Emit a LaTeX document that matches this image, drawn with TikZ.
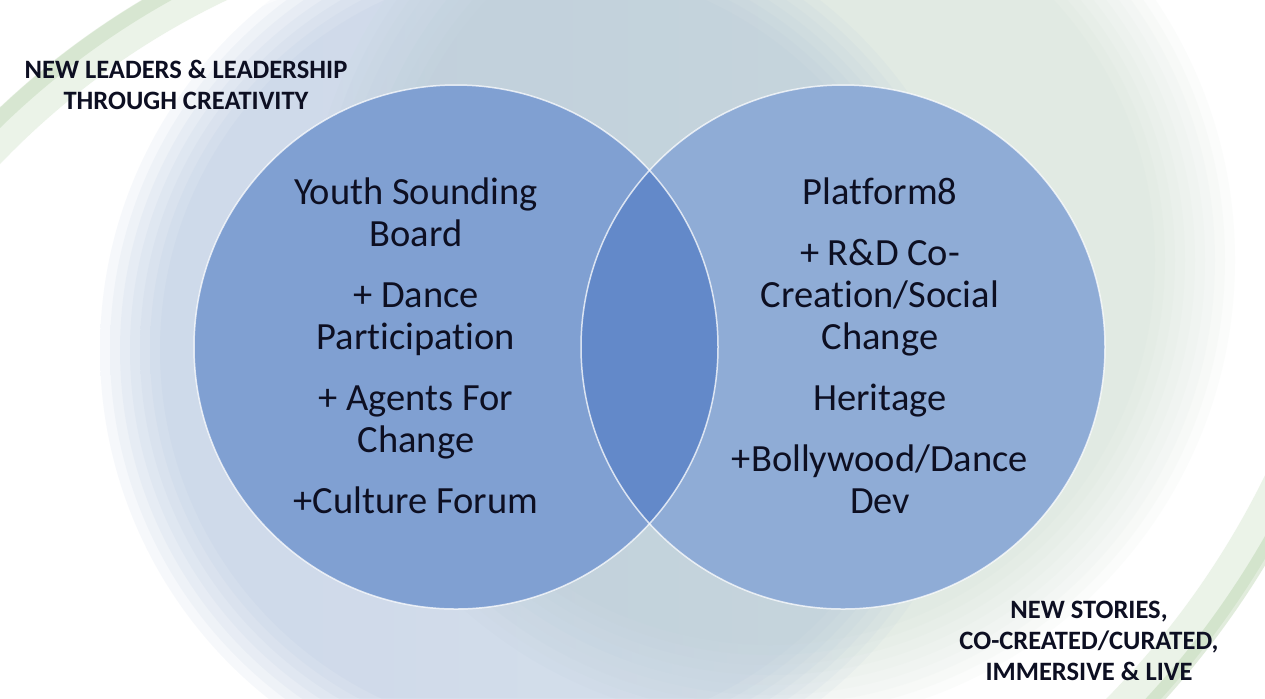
\documentclass[tikz,border=0pt]{standalone}
\usepackage{fontspec}
\setmainfont{Carlito}[Ligatures={NoCommon,NoContextual}]

\definecolor{haloblue}{HTML}{9FB6D8}
\definecolor{halomix}{HTML}{AFC4DA}
\definecolor{halogreen}{HTML}{B9CFBF}
\definecolor{swoosh}{HTML}{9EC38E}
\definecolor{setleft}{HTML}{80A0D2}
\definecolor{setright}{HTML}{8FACD6}
\definecolor{setboth}{HTML}{6389C9}
\definecolor{ink}{HTML}{0D0F22}

\begin{document}
\begin{tikzpicture}[x=0.02cm,y=-0.02cm,
        settext/.style={align=center,text=ink,font=\fontsize{21.9}{23.9}\selectfont},
        cornertext/.style={align=center,text=ink,font=\fontsize{15.1}{17.6}\selectfont\bfseries},
        rim/.style={draw=white,draw opacity=0.75,line width=0.03cm}]
        \def\rad{262}
        \useasboundingbox (0,0) rectangle (1265,698);
        \clip (0,0) rectangle (1265,698);
        \fill[white] (0,0) rectangle (1265,698);
        %% soft glows behind the sets
        \foreach \rr in {465,455,...,385}
            \fill[halogreen,fill opacity=0.05] (770,260) circle (\rr);
        \foreach \rr in {445,435,...,385}
            \shade[fill opacity=0.09,left color=haloblue,right color=halomix] (545,350) circle (\rr);
        %% corner swooshes
        \draw[swoosh,line width=0.8cm,draw opacity=0.2] (560,700) ++(212:795) arc (212:258:795);
        \draw[swoosh,line width=0.3cm,draw opacity=0.25] (560,700) ++(212:808) arc (212:258:808);
        \draw[white,line width=0.4cm,draw opacity=0.5] (560,700) ++(212:765) arc (212:258:765);
        \draw[swoosh,line width=0.8cm,draw opacity=0.2] (500,100) ++(20:872) arc (20:52:872);
        \draw[swoosh,line width=0.3cm,draw opacity=0.3] (500,100) ++(20:888) arc (20:52:888);
        \draw[white,line width=0.4cm,draw opacity=0.5] (500,100) ++(20:842) arc (20:52:842);
        %% the two sets
        \coordinate (L) at (456,347);
        \coordinate (R) at (843,347);
        \fill[setleft] (L) circle (\rad);
        \fill[setright] (R) circle (\rad);
        \begin{scope}
            \clip (L) circle (\rad);
            \fill[setboth] (R) circle (\rad);
        \end{scope}
        \draw[rim] (L) circle (\rad);
        \draw[rim] (R) circle (\rad);
        %% labels
        \node[settext] (youth) at (416,346) {Youth Sounding\\Board\\[0.38cm]+ Dance\\Participation\\[0.38cm]+ Agents For\\Change\\[0.38cm]+Culture Forum};
        \node[settext] (platform) at (880,346) {Platform8\\[0.38cm]+ R\&D Co-\\Creation/Social\\Change\\[0.38cm]Heritage\\[0.38cm]+Bollywood/Dance\\Dev};
        \node[cornertext] (leaders) at (186,85) {NEW LEADERS \& LEADERSHIP\\THROUGH CREATIVITY};
        \node[cornertext] (stories) at (1089,641) {NEW STORIES,\\CO-CREATED/CURATED,\\IMMERSIVE \& LIVE};
    \end{tikzpicture}
\end{document}
